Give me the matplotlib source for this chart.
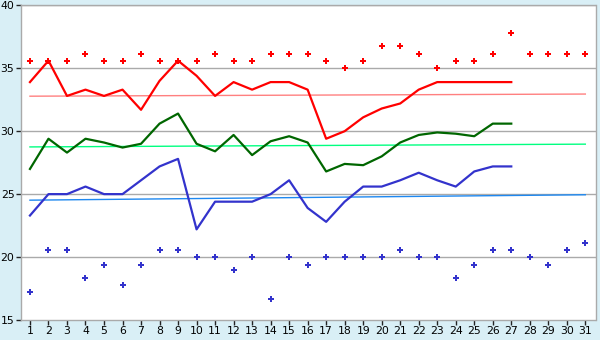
import matplotlib
matplotlib.use("Agg")
import matplotlib.pyplot as plt

days = list(range(1, 32))

max_pts = [35.6, 35.6, 35.6, 36.1, 35.6, 35.6, 36.1, 35.6, 35.6, 35.6,
           36.1, 35.6, 35.6, 36.1, 36.1, 36.1, 35.6, 35.0, 35.6, 36.8,
           36.8, 36.1, 35.0, 35.6, 35.6, 36.1, 37.8, 36.1, 36.1, 36.1, 36.1]
min_pts = [17.2, 20.6, 20.6, 18.3, 19.4, 17.8, 19.4, 20.6, 20.6, 20.0,
           20.0, 19.0, 20.0, 16.7, 20.0, 19.4, 20.0, 20.0, 20.0, 20.0,
           20.6, 20.0, 20.0, 18.3, 19.4, 20.6, 20.6, 20.0, 19.4, 20.6, 21.1]

line_days = list(range(1, 28))
max_line = [33.9, 35.6, 32.8, 33.3, 32.8, 33.3, 31.7, 34.0, 35.6, 34.4,
            32.8, 33.9, 33.3, 33.9, 33.9, 33.3, 29.4, 30.0, 31.1, 31.8,
            32.2, 33.3, 33.9, 33.9, 33.9, 33.9, 33.9]
mean_line = [27.0, 29.4, 28.3, 29.4, 29.1, 28.7, 29.0, 30.6, 31.4, 29.0,
             28.4, 29.7, 28.1, 29.2, 29.6, 29.1, 26.8, 27.4, 27.3, 28.0,
             29.1, 29.7, 29.9, 29.8, 29.6, 30.6, 30.6]
min_line = [23.3, 25.0, 25.0, 25.6, 25.0, 25.0, 26.1, 27.2, 27.8, 22.2,
            24.4, 24.4, 24.4, 25.0, 26.1, 23.9, 22.8, 24.4, 25.6, 25.6,
            26.1, 26.7, 26.1, 25.6, 26.8, 27.2, 27.2]

trend_days = [1, 31]
max_trend = [32.78, 32.95]
mean_trend = [28.75, 28.97]
min_trend = [24.52, 24.95]

bg = "#D9EFF6"
fig = plt.figure(figsize=(6, 3.4), dpi=100, facecolor=bg)
ax = fig.add_axes([0.0345, 0.0588, 0.9580, 0.9256])
ax.set_facecolor("white")

for y in [20, 25, 30, 35, 40]:
    ax.axhline(y, color="#AAAAAA", lw=1.0, zorder=1)

ax.plot(trend_days, max_trend, color="#FF8080", lw=1.0, zorder=2)
ax.plot(trend_days, mean_trend, color="#00FF80", lw=1.0, zorder=2)
ax.plot(trend_days, min_trend, color="#1E88F0", lw=1.0, zorder=2)

ax.plot(line_days, max_line, color="#FF0000", lw=1.6, zorder=3)
ax.plot(line_days, mean_line, color="#006600", lw=1.6, zorder=3)
ax.plot(line_days, min_line, color="#3333CC", lw=1.6, zorder=3)

ax.plot(days, max_pts, ls="none", marker="P", ms=4.5, mew=0,
        color="#FF0000", zorder=4)
ax.plot(days, min_pts, ls="none", marker="P", ms=4.5, mew=0,
        color="#3333CC", zorder=4)

ax.set_xlim(0.5, 31.55)
ax.set_ylim(15, 40)
ax.set_xticks(days)
ax.set_yticks([15, 20, 25, 30, 35, 40])
ax.tick_params(axis="both", direction="out", length=3.5, width=1,
               color="#222222", labelsize=7.8, pad=1)
for s in ax.spines.values():
    s.set_color("#AAAAAA")
    s.set_linewidth(1.0)

fig.savefig("out.png", dpi=100, facecolor=bg)
